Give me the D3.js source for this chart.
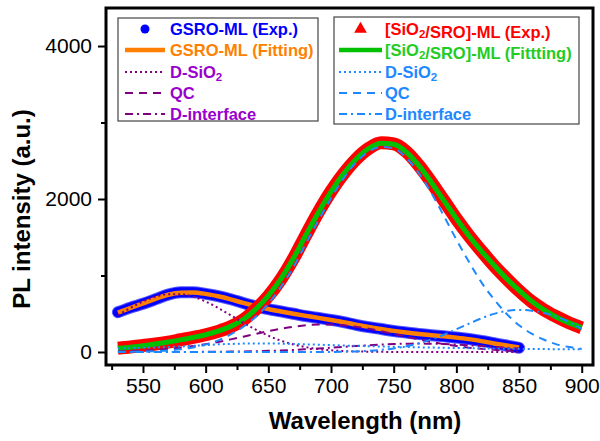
<!DOCTYPE html>
<html>
<head>
<meta charset="utf-8">
<script src="https://cdn.jsdelivr.net/npm/d3@7"></script>
<style>
  body { margin: 0; background: #fff; }
  svg { font-family: "Liberation Sans", Arial, sans-serif; }
</style>
</head>
<body>
<svg id="chart"></svg>
<script>
// ---- data ----
const wlGsro = [530, 540, 550, 560, 570, 580, 590, 600, 610, 620, 630, 640, 650, 660, 670, 680, 690,
    700, 710, 720, 730, 740, 750, 760, 770, 780, 790, 800, 810, 820, 830, 840, 850];
const gsroExp = [520, 580, 630, 690, 750, 780, 780, 760, 730, 690, 640, 595, 560, 530, 500, 470, 445,
    420, 390, 355, 325, 300, 275, 255, 235, 220, 205, 190, 170, 145, 115, 85, 55];
const gsroFit = [515, 575, 635, 695, 748, 776, 778, 760, 728, 688, 642, 600, 562, 530, 500, 472, 446,
    418, 390, 358, 328, 300, 276, 255, 236, 220, 205, 188, 168, 142, 112, 84, 58];
const gsroDSiO2 = [480, 576, 660, 722, 756, 756, 722, 660, 576, 480, 383, 292, 213, 148, 99, 63, 38,
    22, 12, 7, 4, 2, 1, 0, 0, 0, 0, 0, 0, 0, 0, 0, 0];
const gsroQC = [8, 13, 19, 29, 41, 57, 78, 103, 132, 165, 200, 236, 272, 304, 330, 349, 359,
    359, 349, 330, 304, 272, 236, 200, 165, 132, 103, 78, 57, 41, 29, 19, 13];
const gsroDInterface = [0, 0, 0, 0, 0, 1, 1, 2, 3, 5, 7, 10, 15, 20, 27, 36, 45,
    56, 67, 78, 88, 97, 104, 108, 110, 108, 104, 97, 88, 78, 67, 56, 45];

const wlSro = [530, 540, 550, 560, 570, 580, 590, 600, 610, 620, 630, 640, 650, 660, 670, 680, 690,
    700, 710, 720, 730, 740, 750, 760, 770, 780, 790, 800, 810, 820, 830, 840, 850, 860, 870, 880, 890, 900];
const sroExp = [50, 65, 85, 105, 130, 160, 190, 225, 270, 330, 420, 560, 730, 950, 1220, 1530, 1830,
    2100, 2330, 2520, 2660, 2735, 2720, 2620, 2440, 2220, 1980, 1740, 1520, 1320, 1130, 960, 800, 660, 550, 460, 380, 315];
const sroFit = [48, 62, 82, 104, 130, 158, 190, 226, 272, 335, 425, 560, 735, 955, 1225, 1530, 1825,
    2095, 2330, 2520, 2660, 2730, 2715, 2615, 2440, 2220, 1980, 1745, 1520, 1320, 1135, 960, 805, 665, 550, 455, 380, 318];
const sroDSiO2 = [45, 50, 55, 60, 65, 72, 80, 90, 100, 105, 110, 112, 112, 110, 105, 100, 95,
    90, 85, 80, 76, 72, 68, 65, 61, 58, 55, 52, 50, 47, 45, 43, 41, 40, 38, 37, 36, 35];
const sroQC = [2, 4, 6, 12, 20, 35, 59, 96, 152, 230, 330, 460, 630, 850, 1110, 1420, 1720,
    2010, 2270, 2480, 2620, 2680, 2660, 2540, 2340, 2080, 1780, 1470, 1180, 910, 690, 500, 350, 240, 160, 100, 65, 40];
const sroDInterface = [0, 0, 0, 0, 0, 0, 0, 0, 0, 0, 0, 0, 0, 0, 0, 0, 0,
    1, 4, 8, 16, 28, 47, 74, 113, 164, 226, 297, 370, 440, 498, 537, 550, 540, 510, 460, 390, 300];

// axis ticks
const xTicks = [550, 600, 650, 700, 750, 800, 850, 900];
const xMinorTicks = [525, 575, 625, 675, 725, 775, 825, 875];
const yTicks = [0, 2000, 4000];
const yMinorTicks = [1000, 3000];

// legend labels
const legendLeft = ['GSRO-ML (Exp.)', 'GSRO-ML (Fitting)', 'D-SiO2', 'QC', 'D-interface'];
const legendRight = ['[SiO2/SRO]-ML (Exp.)', '[SiO2/SRO]-ML (Fittting)', 'D-SiO2', 'QC', 'D-interface'];

// ---- layout ----
const config = {
    width: 600,
    height: 441,
    frame: {left: 106, right: 593, top: 8, bottom: 365},
    xDomain: [520.5, 909],
    yDomain: [-170, 4497]
};
const colors = {
    blue: '#0000ff', orange: '#ff8000', purpleLine: '#800080', purpleText: '#9900cc',
    red: '#ff0000', green: '#00c000', greenText: '#22cc22', lightBlue: '#1e88ff'
};
const dash = {dot: '2,3', dash: '8,6', dashDot: '8,4,2,4'};

const svg = d3.select('#chart')
    .attr('width', config.width)
    .attr('height', config.height);

const xScale = d3.scaleLinear().domain(config.xDomain).range([config.frame.left, config.frame.right]);
const yScale = d3.scaleLinear().domain(config.yDomain).range([config.frame.bottom, config.frame.top]);

svg.append('clipPath').attr('id', 'clip')
    .append('rect')
    .attr('x', config.frame.left).attr('y', config.frame.top)
    .attr('width', config.frame.right - config.frame.left)
    .attr('height', config.frame.bottom - config.frame.top);

const plot = svg.append('g').attr('clip-path', 'url(#clip)');

const makeLine = xs => d3.line()
    .x((d, i) => xScale(xs[i]))
    .y(d => yScale(d))
    .curve(d3.curveMonotoneX);

function drawSeries(xs, values, color, width, dasharray, cap) {
    plot.append('path')
        .datum(values)
        .attr('fill', 'none')
        .attr('stroke', color)
        .attr('stroke-width', width)
        .attr('stroke-dasharray', dasharray || null)
        .attr('stroke-linecap', cap || 'butt')
        .attr('stroke-linejoin', 'round')
        .attr('d', makeLine(xs));
}

// experimental bands + fits
drawSeries(wlGsro, gsroExp, '#5a5aff', 12, null, 'round');
drawSeries(wlGsro, gsroExp, colors.blue, 10, null, 'round');
drawSeries(wlGsro, gsroFit, colors.orange, 4.5);
drawSeries(wlSro, sroExp, colors.red, 13);
drawSeries(wlSro, sroFit, colors.green, 5);

// deconvolved components
drawSeries(wlGsro, gsroDSiO2, colors.purpleLine, 2, dash.dot);
drawSeries(wlGsro, gsroQC, colors.purpleLine, 2, dash.dash);
drawSeries(wlGsro, gsroDInterface, colors.purpleLine, 2, dash.dashDot);
drawSeries(wlSro, sroDSiO2, colors.lightBlue, 2, dash.dot);
drawSeries(wlSro, sroQC, colors.lightBlue, 2, dash.dash);
drawSeries(wlSro, sroDInterface, colors.lightBlue, 2, dash.dashDot);

// ---- axes ----
svg.append('g')
    .attr('transform', `translate(0,${config.frame.bottom})`)
    .call(d3.axisBottom(xScale).tickValues(xTicks).tickSize(8).tickPadding(5).tickFormat(d3.format('d')));
svg.append('g')
    .attr('transform', `translate(0,${config.frame.bottom})`)
    .call(d3.axisBottom(xScale).tickValues(xMinorTicks).tickSize(5).tickFormat(''));

svg.append('g')
    .attr('transform', `translate(${config.frame.left},0)`)
    .call(d3.axisLeft(yScale).tickValues(yTicks).tickSize(8).tickPadding(6).tickFormat(d3.format('d')));
svg.append('g')
    .attr('transform', `translate(${config.frame.left},0)`)
    .call(d3.axisLeft(yScale).tickValues(yMinorTicks).tickSize(5).tickFormat(''));

svg.selectAll('.domain').remove();
svg.selectAll('.tick line').attr('stroke', '#000').attr('stroke-width', 2);
svg.selectAll('.tick text').attr('fill', '#000').style('font-size', '21px')
    .style('font-family', '"Liberation Sans", Arial, sans-serif');

// frame
svg.append('rect')
    .attr('x', config.frame.left).attr('y', config.frame.top)
    .attr('width', config.frame.right - config.frame.left)
    .attr('height', config.frame.bottom - config.frame.top)
    .attr('fill', 'none').attr('stroke', '#000').attr('stroke-width', 3);

// axis titles
svg.append('text')
    .attr('x', 365).attr('y', 429)
    .attr('text-anchor', 'middle')
    .style('font-size', '24px').style('font-weight', 'bold')
    .text('Wavelength (nm)');

svg.append('text')
    .attr('transform', 'translate(30,209) rotate(-90)')
    .attr('text-anchor', 'middle')
    .style('font-size', '24px').style('font-weight', 'bold')
    .text('PL intensity (a.u.)');

// ---- legends ----
function addLabel(g, x, y, label, color) {
    const t = g.append('text').attr('x', x).attr('y', y)
        .attr('fill', color).style('font-size', '16.5px').style('font-weight', 'bold');
    // render "SiO2" with a subscript 2
    const parts = label.split('SiO2');
    parts.forEach((p, i) => {
        t.append('tspan').text(p + (i < parts.length - 1 ? 'SiO' : ''));
        if (i < parts.length - 1) {
            t.append('tspan').attr('dy', 3).style('font-size', '11.5px').text('2');
            t.append('tspan').attr('dy', -3).text('');
        }
    });
}

function drawLegend(box, labels, textColors, lineColors, sample, marker) {
    const g = svg.append('g');
    g.append('rect')
        .attr('x', box.x).attr('y', box.y).attr('width', box.w).attr('height', box.h)
        .attr('fill', '#fff').attr('stroke', '#444').attr('stroke-width', 1.2);
    const rowY = [29, 50, 72, 93, 114];
    const styles = [null, null, dash.dot, dash.dash, dash.dashDot];
    labels.forEach((label, i) => {
        const cy = rowY[i];
        if (i === 0) {
            marker(g, (sample[0] + sample[1]) / 2, cy);
        } else {
            g.append('line')
                .attr('x1', sample[0]).attr('x2', sample[1])
                .attr('y1', cy).attr('y2', cy)
                .attr('stroke', lineColors[i])
                .attr('stroke-width', i === 1 ? 4.5 : 2)
                .attr('stroke-dasharray', styles[i]);
        }
        addLabel(g, box.textX, cy + 5.5, label, textColors[i]);
    });
}

drawLegend({x: 118, y: 18, w: 200, h: 103, textX: 170}, legendLeft,
    [colors.blue, colors.orange, colors.purpleText, colors.purpleText, colors.purpleText],
    [colors.blue, colors.orange, colors.purpleLine, colors.purpleLine, colors.purpleLine],
    [125, 165],
    (g, x, y) => g.append('circle').attr('cx', x).attr('cy', y).attr('r', 4.5).attr('fill', colors.blue));

drawLegend({x: 334, y: 17, w: 245, h: 107, textX: 385}, legendRight,
    [colors.red, colors.greenText, colors.lightBlue, colors.lightBlue, colors.lightBlue],
    [colors.red, colors.green, colors.lightBlue, colors.lightBlue, colors.lightBlue],
    [339, 382],
    (g, x, y) => g.append('path')
        .attr('transform', `translate(${x},${y})`)
        .attr('d', d3.symbol(d3.symbolTriangle).size(70)())
        .attr('fill', colors.red));
</script>
</body>
</html>
